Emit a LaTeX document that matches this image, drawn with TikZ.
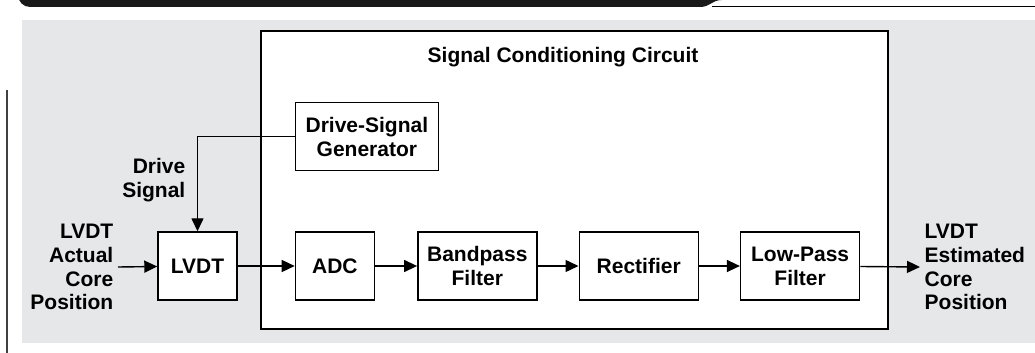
\documentclass[tikz,border=0pt]{standalone}
\usepackage{fontspec}
\setmainfont{Liberation Sans}
\usepackage{tikz}
\usetikzlibrary{arrows.meta,positioning}
\definecolor{panelgray}{RGB}{230,231,232}
\tikzstyle{block}=[draw,fill=white,rectangle,minimum width=39.5pt,minimum height=34pt,inner sep=1pt,align=center]
\tikzstyle{wide}=[block,minimum width=59.5pt]
\tikzstyle{side}=[inner sep=2pt]

\begin{document}
\begin{tikzpicture}[x=0.5pt,y=-0.5pt,line width=0.7pt,
font=\bfseries\fontsize{10.5}{11.9}\selectfont,
every edge/.style={draw,-{Triangle[length=6.5pt,width=6pt]},line width=0.7pt}]
\useasboundingbox (0,0) rectangle (1035,353);
\fill[panelgray] (22,20) rectangle (1035,343);
\fill[black!90] (18,-20) [rounded corners=6pt] -- (18,7) -- (60,7) [sharp corners] -- (700,7)
    .. controls (710,7) and (712,0) .. (722,0) -- (722,-20) -- cycle;
\draw[line width=0.5pt] (712,6.5) -- (1035,6.5);
\draw[black!75,line width=0.8pt] (7,90) -- (7,353);
\node[draw,fill=white,minimum width=313.5pt,minimum height=149pt] (scc) at (574.5,180) {};
\node (title) at (563,57) {Signal Conditioning Circuit};
\node[block] (lvdt) at (197.5,266) {LVDT};
\node[block,right=28.5pt of lvdt] (adc) {ADC};
\node[wide,right=21pt of adc] (bpf) {Bandpass\\Filter};
\node[wide,right=20.5pt of bpf] (rect) {Rectifier};
\node[wide,right=20.5pt of rect] (lpf) {Low-Pass\\Filter};
\node[block,minimum width=71.5pt,above right=30pt and 0pt of adc.north west] (gen) {Drive-Signal\\Generator};
\node[side,anchor=east,align=right] (drv) at (190,180.5) {Drive\\Signal};
\node[side,anchor=east,align=right] (actual) at (118,267) {LVDT\\Actual\\Core\\Position};
\node[side,anchor=west,align=left] (est) at (920,267) {LVDT\\Estimated\\Core\\Position};
\draw (actual.east) edge (lvdt)
      (lvdt) edge (adc)
      (adc) edge (bpf)
      (bpf) edge (rect)
      (rect) edge (lpf)
      (lpf) edge (est.west);
\draw[-{Triangle[length=6.5pt,width=6pt]}] (gen.west) -| (lvdt.north);
\end{tikzpicture}
\end{document}
